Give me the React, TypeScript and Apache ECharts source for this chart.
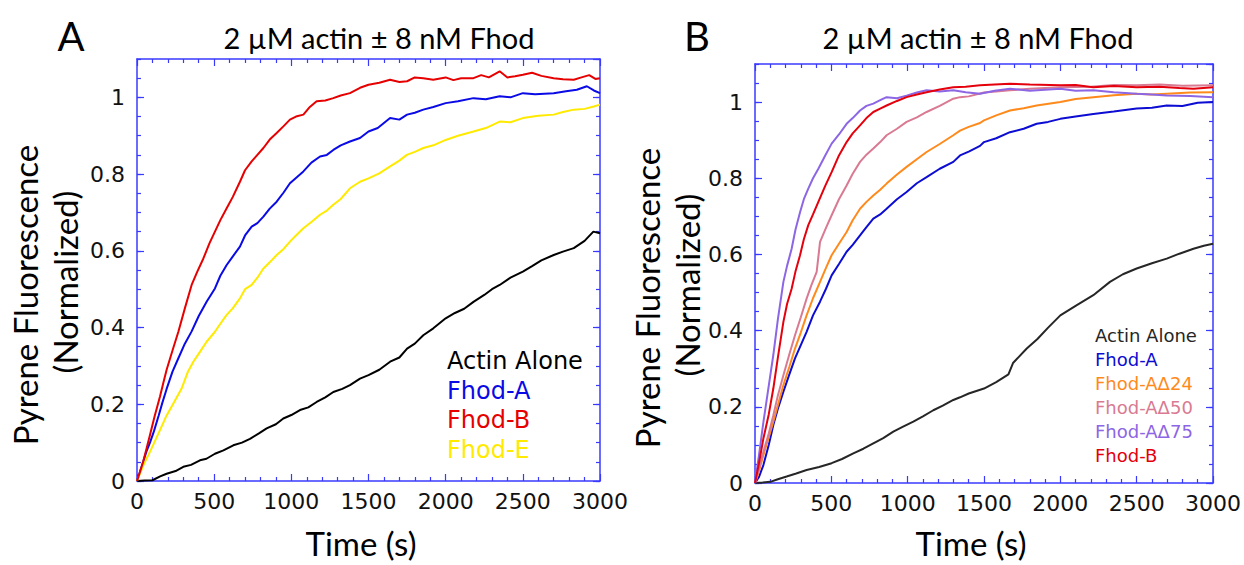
import React, { useEffect, useRef } from "react";
import * as echarts from "echarts";

type P = [number, number];

// ---------- Panel A data: [time (s), normalized fluorescence] ----------
const A_ACTIN: P[] = [[0,0],[50,0.001],[100,0.002],[150,0.012],[192,0.019],[250,0.026],[300,0.037],[350,0.042],[408,0.054],[450,0.058],[505,0.071],[560,0.08],[624,0.093],[680,0.1],[732,0.11],[790,0.124],[840,0.137],[900,0.148],[948,0.163],[1000,0.172],[1056,0.185],[1110,0.192],[1164,0.206],[1220,0.218],[1272,0.232],[1330,0.24],[1380,0.25],[1445,0.267],[1500,0.276],[1570,0.29],[1640,0.311],[1700,0.322],[1750,0.345],[1800,0.358],[1855,0.38],[1920,0.398],[2000,0.424],[2060,0.438],[2120,0.449],[2180,0.467],[2250,0.485],[2300,0.5],[2350,0.511],[2420,0.53],[2500,0.546],[2560,0.56],[2620,0.575],[2700,0.589],[2760,0.598],[2830,0.607],[2900,0.626],[2957,0.65],[3000,0.646]];
const A_FHOD_A: P[] = [[0,0],[20,0.025],[40,0.05],[62,0.078],[84,0.1],[110,0.13],[140,0.17],[165,0.205],[192,0.24],[230,0.285],[268,0.32],[310,0.358],[354,0.39],[400,0.43],[451,0.467],[505,0.502],[540,0.535],[581,0.563],[620,0.585],[667,0.611],[700,0.64],[743,0.663],[780,0.672],[819,0.689],[860,0.71],[905,0.728],[950,0.752],[991,0.776],[1030,0.79],[1078,0.807],[1130,0.83],[1186,0.846],[1230,0.85],[1272,0.863],[1320,0.875],[1380,0.885],[1445,0.894],[1500,0.911],[1560,0.92],[1640,0.946],[1700,0.942],[1750,0.955],[1800,0.96],[1855,0.968],[1920,0.975],[2000,0.985],[2080,0.99],[2180,0.998],[2260,0.995],[2350,1.003],[2420,1.0],[2500,1.011],[2580,1.008],[2700,1.011],[2780,1.016],[2850,1.02],[2915,1.029],[2960,1.018],[3000,1.011]];
const A_FHOD_B: P[] = [[0,0],[20,0.024],[40,0.05],[62,0.085],[84,0.12],[115,0.17],[149,0.22],[170,0.255],[192,0.29],[230,0.34],[268,0.389],[310,0.45],[354,0.511],[390,0.545],[430,0.58],[470,0.62],[505,0.65],[540,0.68],[581,0.711],[620,0.74],[667,0.78],[700,0.81],[743,0.833],[780,0.85],[819,0.868],[860,0.89],[905,0.907],[950,0.925],[991,0.942],[1030,0.95],[1078,0.955],[1120,0.975],[1164,0.99],[1220,0.992],[1272,0.998],[1320,1.005],[1380,1.011],[1445,1.025],[1500,1.033],[1570,1.038],[1640,1.046],[1700,1.04],[1750,1.042],[1800,1.052],[1855,1.05],[1920,1.046],[2000,1.052],[2050,1.045],[2100,1.05],[2180,1.05],[2230,1.058],[2280,1.052],[2350,1.068],[2400,1.052],[2450,1.055],[2500,1.059],[2560,1.064],[2620,1.056],[2700,1.05],[2760,1.047],[2830,1.046],[2880,1.052],[2930,1.058],[2970,1.048],[3000,1.05]];
const A_FHOD_E: P[] = [[0,0],[40,0.04],[84,0.076],[140,0.125],[192,0.171],[240,0.205],[289,0.241],[330,0.285],[365,0.311],[410,0.338],[451,0.363],[505,0.389],[540,0.41],[581,0.433],[620,0.45],[667,0.476],[700,0.5],[743,0.511],[780,0.53],[819,0.554],[860,0.57],[905,0.589],[950,0.605],[991,0.624],[1030,0.64],[1078,0.659],[1130,0.675],[1186,0.694],[1230,0.705],[1272,0.72],[1320,0.735],[1380,0.763],[1445,0.78],[1500,0.789],[1570,0.802],[1640,0.82],[1700,0.835],[1748,0.85],[1800,0.858],[1855,0.868],[1920,0.875],[2000,0.889],[2080,0.9],[2180,0.911],[2260,0.92],[2350,0.937],[2420,0.935],[2500,0.946],[2600,0.952],[2700,0.955],[2760,0.962],[2830,0.968],[2900,0.97],[2960,0.976],[3000,0.981]];

// ---------- Panel B data ----------
const B_ACTIN: P[] = [[0,0],[50,0.001],[100,0.003],[150,0.01],[207,0.017],[270,0.025],[338,0.034],[420,0.042],[502,0.052],[570,0.063],[644,0.078],[710,0.09],[775,0.104],[840,0.118],[906,0.135],[970,0.148],[1037,0.161],[1100,0.175],[1168,0.191],[1230,0.203],[1299,0.218],[1343,0.225],[1400,0.235],[1500,0.248],[1580,0.265],[1660,0.285],[1690,0.315],[1780,0.353],[1850,0.378],[1920,0.408],[2000,0.44],[2100,0.465],[2216,0.493],[2325,0.528],[2410,0.548],[2500,0.563],[2600,0.577],[2697,0.589],[2780,0.602],[2872,0.615],[2940,0.623],[3000,0.628]];
const B_FHOD_A: P[] = [[0,0],[25,0.015],[55,0.047],[90,0.1],[120,0.152],[150,0.195],[186,0.24],[225,0.285],[262,0.327],[300,0.362],[338,0.397],[380,0.44],[426,0.476],[465,0.51],[502,0.545],[550,0.575],[600,0.607],[640,0.625],[688,0.65],[730,0.672],[775,0.694],[820,0.705],[862,0.72],[930,0.745],[993,0.764],[1060,0.787],[1124,0.803],[1210,0.825],[1299,0.843],[1343,0.86],[1400,0.87],[1474,0.885],[1500,0.895],[1580,0.905],[1670,0.921],[1760,0.93],[1845,0.943],[1920,0.948],[2000,0.956],[2100,0.962],[2216,0.969],[2350,0.975],[2500,0.983],[2600,0.985],[2697,0.991],[2800,0.99],[2900,0.998],[3000,1.0]];
const B_D24: P[] = [[0,0],[25,0.03],[55,0.073],[90,0.12],[120,0.161],[150,0.205],[186,0.257],[225,0.305],[262,0.353],[300,0.395],[338,0.44],[380,0.485],[426,0.528],[465,0.565],[502,0.598],[550,0.628],[600,0.659],[640,0.69],[688,0.72],[730,0.738],[775,0.755],[820,0.77],[862,0.786],[930,0.81],[993,0.83],[1060,0.85],[1124,0.869],[1210,0.89],[1299,0.913],[1343,0.925],[1400,0.935],[1474,0.945],[1500,0.952],[1580,0.965],[1670,0.978],[1760,0.984],[1845,0.991],[2000,1.0],[2100,1.008],[2216,1.013],[2350,1.018],[2500,1.022],[2600,1.02],[2697,1.022],[2850,1.025],[3000,1.026]];
const B_D50: P[] = [[0,0],[25,0.035],[55,0.082],[90,0.13],[120,0.178],[150,0.23],[186,0.283],[225,0.338],[262,0.388],[300,0.435],[338,0.484],[370,0.52],[404,0.554],[426,0.633],[465,0.67],[502,0.703],[550,0.745],[600,0.781],[640,0.812],[688,0.843],[730,0.862],[775,0.878],[820,0.895],[862,0.913],[930,0.93],[993,0.948],[1060,0.96],[1124,0.974],[1210,0.99],[1299,1.009],[1343,1.013],[1400,1.015],[1500,1.025],[1580,1.028],[1670,1.031],[1800,1.035],[2000,1.039],[2200,1.04],[2350,1.045],[2500,1.044],[2650,1.046],[2800,1.043],[3000,1.044]];
const B_D75: P[] = [[0,0],[25,0.07],[55,0.16],[90,0.255],[120,0.336],[150,0.43],[186,0.528],[210,0.57],[240,0.615],[265,0.665],[295,0.711],[320,0.745],[349,0.773],[380,0.8],[415,0.825],[460,0.86],[502,0.891],[550,0.915],[600,0.943],[640,0.958],[688,0.978],[730,0.99],[775,0.996],[820,1.005],[862,1.013],[930,1.01],[993,1.017],[1060,1.025],[1124,1.031],[1210,1.028],[1299,1.031],[1380,1.026],[1474,1.022],[1570,1.03],[1670,1.035],[1800,1.03],[2000,1.035],[2100,1.03],[2216,1.031],[2350,1.026],[2500,1.022],[2600,1.02],[2697,1.017],[2850,1.016],[3000,1.013]];
const B_FHOD_B: P[] = [[0,0],[25,0.05],[55,0.117],[90,0.18],[120,0.248],[150,0.33],[186,0.423],[210,0.47],[240,0.51],[265,0.555],[295,0.598],[320,0.64],[349,0.677],[380,0.705],[415,0.738],[460,0.78],[502,0.816],[550,0.86],[600,0.895],[640,0.918],[688,0.939],[730,0.958],[775,0.974],[820,0.983],[862,0.991],[930,1.003],[993,1.013],[1060,1.02],[1124,1.026],[1210,1.033],[1299,1.039],[1380,1.04],[1474,1.044],[1570,1.046],[1670,1.048],[1800,1.046],[2000,1.044],[2100,1.045],[2216,1.039],[2350,1.042],[2500,1.039],[2650,1.04],[2780,1.037],[2872,1.035],[3000,1.039]];

const A_NAMES = ["Actin Alone", "Fhod-A", "Fhod-B", "Fhod-E"];
const A_COLORS = ["#000000", "#0a0ae6", "#e60000", "#ffea00"];
const B_NAMES = ["Actin Alone", "Fhod-A", "Fhod-A\u039424", "Fhod-A\u039450", "Fhod-A\u039475", "Fhod-B"];
const B_COLORS = ["#262626", "#0c0cd2", "#ff8a1c", "#d97a92", "#8c66e4", "#e4000c"];

const TITLE = "2 \u00b5M actin \u00b1 8 nM Fhod";
const X_NAME = "Time (s)";
const Y_NAME_1 = "Pyrene Fluorescence";
const Y_NAME_2 = "(Normalized)";

const X_MIN = 0, X_MAX = 3000, X_STEP = 500;
const Y_MIN = 0, Y_MAX = 1.1, Y_STEP = 0.2, Y_MINOR = 0.05;

const FRAME = "#3a3aff";
const SANS = "'DejaVu Sans', sans-serif";
const CAL = "Lato, 'Open Sans', sans-serif";

const fmt = (v: number) => String(+Number(v).toFixed(2));

export default function App() {
  const ref = useRef<HTMLDivElement>(null);
  useEffect(() => {
    document.body.style.margin = "0";
    const chart = echarts.init(ref.current!, undefined, { renderer: "svg" });

    const line = { lineStyle: { color: FRAME, width: 1.5 } };
    const xAx = (grid: number, pos: "bottom" | "top") => ({
      type: "value", gridIndex: grid, position: pos, min: X_MIN, max: X_MAX, interval: X_STEP,
      axisLine: { show: true, onZero: false, ...line },
      axisTick: { show: true, inside: true, length: 7, lineStyle: { color: FRAME, width: 1.2 } },
      minorTick: { show: true, splitNumber: 5, length: 4, lineStyle: { color: FRAME, width: 1.2 } },
      splitLine: { show: false },
      axisLabel: pos === "bottom"
        ? { show: true, color: "#111", fontFamily: SANS, fontSize: 22, margin: 9, formatter: fmt }
        : { show: false },
    });
    const yAx = (grid: number, pos: "left" | "right", major: boolean, labels: boolean) => ({
      type: "value", gridIndex: grid, position: pos, min: Y_MIN, max: Y_MAX,
      interval: major ? Y_STEP : Y_MINOR,
      axisLine: { show: major, onZero: false, ...line },
      axisTick: { show: true, inside: true, length: major ? 7 : 4, lineStyle: { color: FRAME, width: 1.2 } },
      splitLine: { show: false },
      axisLabel: labels
        ? { show: true, color: "#111", fontFamily: SANS, fontSize: 22, margin: 12, showMaxLabel: false, formatter: fmt }
        : { show: false },
    });

    const mk = (data: P[], color: string, xi: number, yi: number, name: string) => ({
      type: "line", name, data, xAxisIndex: xi, yAxisIndex: yi, showSymbol: false, symbol: "none",
      lineStyle: { color, width: 2 }, itemStyle: { color }, smooth: false, silent: true,
    });

    // draw order: actin, Fhod-A, Fhod-E, Fhod-B (red on top)
    const A_DRAW: [P[], number][] = [[A_ACTIN, 0], [A_FHOD_A, 1], [A_FHOD_E, 3], [A_FHOD_B, 2]];
    const B_SERIES = [B_ACTIN, B_FHOD_A, B_D24, B_D50, B_D75, B_FHOD_B];

    const texts: any[] = [];
    const addText = (x: number, y: number, text: string, size: number, color: string, family: string,
      align = "center", vAlign = "middle", rotation = 0) =>
      texts.push({ type: "text", x, y, rotation, silent: true,
        style: { text, fontSize: size, fill: color, fontFamily: family, align, verticalAlign: vAlign } });

    // panel letters and titles
    addText(71, 36, "A", 40, "#000", CAL);
    addText(697, 36, "B", 40, "#000", CAL);
    addText(379, 37, TITLE, 29, "#000", CAL);
    addText(978, 37, TITLE, 29, "#000", CAL);
    // axis names
    addText(361, 543, X_NAME, 33, "#000", CAL);
    addText(971, 543, X_NAME, 33, "#000", CAL);
    addText(25, 295, Y_NAME_1, 33, "#000", CAL, "center", "middle", Math.PI / 2);
    addText(65, 282, Y_NAME_2, 33, "#000", CAL, "center", "middle", Math.PI / 2);
    addText(647, 298, Y_NAME_1, 33, "#000", CAL, "center", "middle", Math.PI / 2);
    addText(687, 285, Y_NAME_2, 33, "#000", CAL, "center", "middle", Math.PI / 2);
    // legends (coloured text)
    A_NAMES.forEach((n, i) => addText(447, 373 + i * 29.5, n, 24, A_COLORS[i], SANS, "left", "bottom"));
    B_NAMES.forEach((n, i) => addText(1095, 344 + i * 24, n, 18, B_COLORS[i], SANS, "left", "bottom"));

    chart.setOption({
      animation: false,
      backgroundColor: "#ffffff",
      grid: [
        { left: 137, top: 59, width: 463, height: 422, show: false },
        { left: 755, top: 64, width: 458, height: 419, show: false },
      ],
      xAxis: [xAx(0, "bottom"), xAx(0, "top"), xAx(1, "bottom"), xAx(1, "top")],
      yAxis: [
        yAx(0, "left", true, true), yAx(0, "left", false, false),
        yAx(0, "right", true, false), yAx(0, "right", false, false),
        yAx(1, "left", true, true), yAx(1, "left", false, false),
        yAx(1, "right", true, false), yAx(1, "right", false, false),
      ],
      series: [
        ...A_DRAW.map(([d, i]) => mk(d, A_COLORS[i], 0, 0, A_NAMES[i])),
        ...B_SERIES.map((d, i) => mk(d, B_COLORS[i], 2, 4, B_NAMES[i])),
      ],
      graphic: texts,
    });
    return () => chart.dispose();
  }, []);
  return <div ref={ref} style={{ width: 1244, height: 565 }} />;
}
